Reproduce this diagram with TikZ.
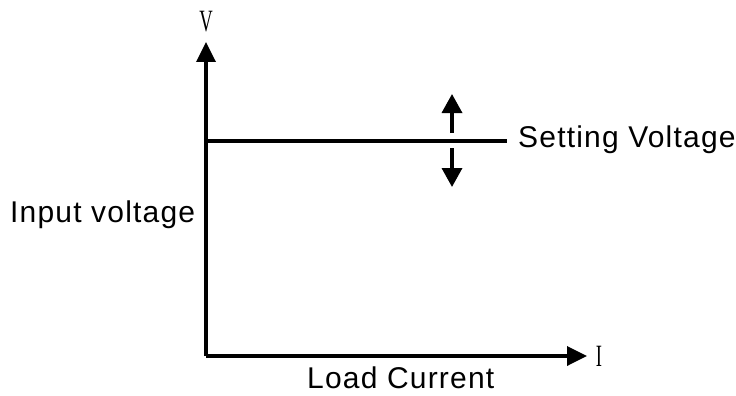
\documentclass[tikz,border=0pt]{standalone}
\usepackage{fontspec}
\setmainfont{Liberation Sans}
\newfontfamily\lblfont[LetterSpace=4]{Liberation Sans}
\newfontfamily\axfont{Liberation Serif}
\usetikzlibrary{arrows.meta}
\begin{document}
\begin{tikzpicture}[x=1pt,y=-1pt,
  axisline/.style={line width=3.5pt,-{Triangle[length=20pt,width=19pt]}},
  plainline/.style={line width=3.5pt},
  smallarrow/.style={line width=3.5pt,-{Triangle[length=19pt,width=20pt]}},
  lbl/.style={inner sep=0pt,font=\lblfont\fontsize{30}{34}\selectfont},
  axlbl/.style={inner sep=0pt,font=\axfont\fontsize{31}{34}\selectfont,xscale=0.6}]
\useasboundingbox (0,0) rectangle (736,396);
\coordinate (O) at (206,356);
\coordinate (Ytop) at (206,42);
\coordinate (Xend) at (587,356);
\coordinate (Hs) at (206,141);
\coordinate (He) at (507,141);
\coordinate (U1) at (452,133);
\coordinate (U2) at (452,94);
\coordinate (D1) at (452,148);
\coordinate (D2) at (452,187);
\draw[axisline] (O) -- (Ytop);
\draw[axisline] (O) -- (Xend);
\draw[plainline] (Hs) -- (He);
\draw[smallarrow] (U1) -- (U2);
\draw[smallarrow] (D1) -- (D2);
\node[axlbl] (V) at (206,22) {V};
\node[axlbl] (I) at (599,356) {I};
\node[lbl,anchor=base west] (sv) at (518,147) {Setting Voltage};
\node[lbl,anchor=base west] (iv) at (10,222) {Input voltage};
\node[lbl,anchor=base west] (lc) at (307,388) {Load Current};
\end{tikzpicture}
\end{document}
